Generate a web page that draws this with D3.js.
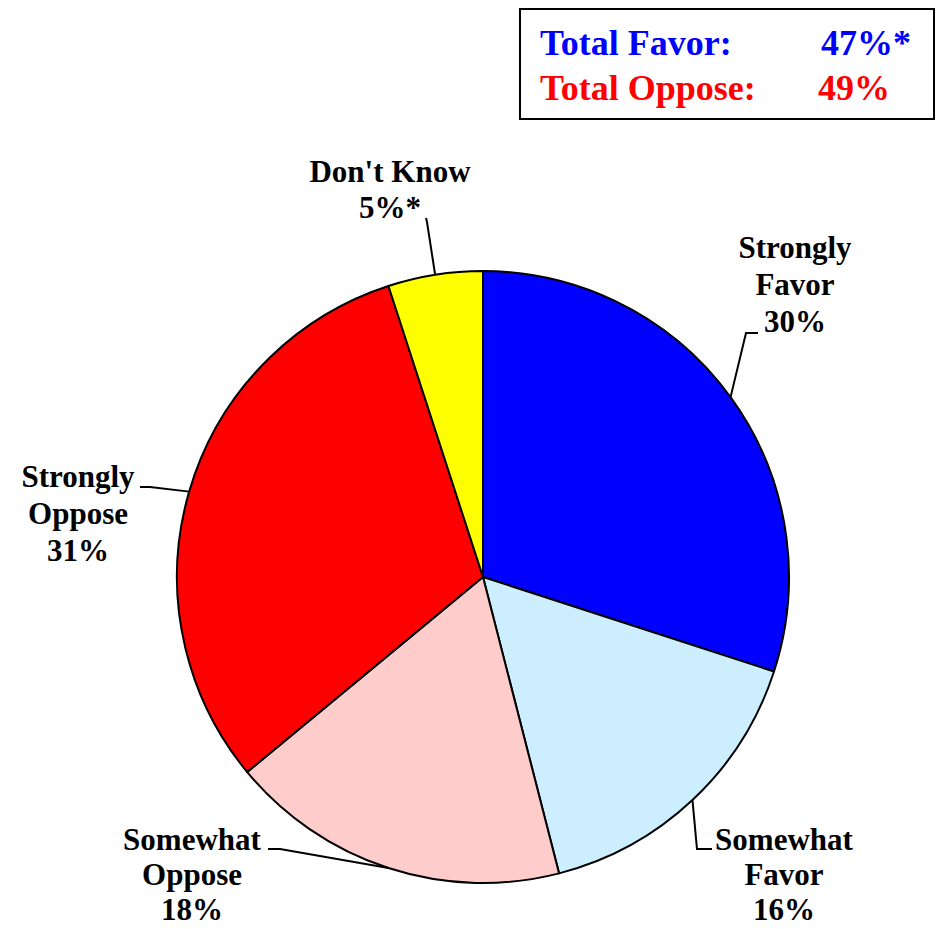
<!DOCTYPE html>
<html>
<head>
<meta charset="utf-8">
<script src="https://cdn.jsdelivr.net/npm/d3@7"></script>
<style>
  body { margin: 0; background: #fff; }
  svg text { font-family: "Liberation Serif", "Times New Roman", serif; font-weight: bold; }
</style>
</head>
<body>
<div id="chart"></div>
<script>
// data
const categories = ['Strongly Favor', 'Somewhat Favor', 'Somewhat Oppose', 'Strongly Oppose', "Don't Know"];
const values = [30, 16, 18, 31, 5];
const valueLabels = ['30%', '16%', '18%', '31%', '5%*'];
const labelLines = [['Strongly', 'Favor'], ['Somewhat', 'Favor'], ['Somewhat', 'Oppose'], ['Strongly', 'Oppose'], ["Don't Know"]];
const colors = ['#0000ff', '#cceeff', '#ffcccc', '#ff0000', '#ffff00'];

const totalLabels = ['Total Favor:', 'Total Oppose:'];
const totalValues = ['47%*', '49%'];
const totalColors = ['#0000ff', '#ff0000'];

// label layout: text center x, first baseline y, line step, leader elbow and end
const labelLayout = [
  { x: 795, y: 258, step: 37, elbow: [746, 333], end: [758, 333] },
  { x: 784, y: 850, step: 35, elbow: [697, 849], end: [712, 849] },
  { x: 192, y: 850, step: 35, elbow: [280, 849], end: [268, 849] },
  { x: 78,  y: 487, step: 37, elbow: [150, 487], end: [140, 487] },
  { x: 390, y: 182, step: 36, elbow: [427, 222], end: [426, 218] }
];

const width = 939, height = 929;
const cx = 483, cy = 577, radius = 306;

const svg = d3.select('#chart').append('svg')
  .attr('width', width)
  .attr('height', height);

const pie = d3.pie().sort(null).value(d => d);
const arcs = pie(values);
const arc = d3.arc().innerRadius(0).outerRadius(radius);

const g = svg.append('g').attr('transform', `translate(${cx},${cy})`);

g.selectAll('path')
  .data(arcs)
  .enter()
  .append('path')
  .attr('d', arc)
  .attr('fill', (d, i) => colors[i])
  .attr('stroke', '#000')
  .attr('stroke-width', 2)
  .attr('stroke-linejoin', 'round');

// leader lines
arcs.forEach((d, i) => {
  const a = (d.startAngle + d.endAngle) / 2;
  const p = [cx + radius * Math.sin(a), cy - radius * Math.cos(a)];
  const L = labelLayout[i];
  svg.append('path')
    .attr('d', d3.line()([p, L.elbow, L.end]))
    .attr('fill', 'none')
    .attr('stroke', '#000')
    .attr('stroke-width', 2);
});

// labels
categories.forEach((c, i) => {
  const L = labelLayout[i];
  const lines = labelLines[i].concat([valueLabels[i]]);
  const t = svg.append('text')
    .attr('text-anchor', 'middle')
    .attr('font-size', 31)
    .attr('fill', '#000');
  lines.forEach((s, j) => {
    t.append('tspan')
      .attr('x', L.x)
      .attr('y', L.y + j * L.step)
      .text(s);
  });
});

// totals box
svg.append('rect')
  .attr('x', 520)
  .attr('y', 9)
  .attr('width', 414)
  .attr('height', 110)
  .attr('fill', '#fff')
  .attr('stroke', '#000')
  .attr('stroke-width', 2);

const totalX = [821, 818];
totalLabels.forEach((s, i) => {
  svg.append('text')
    .attr('x', 540)
    .attr('y', 55 + i * 45)
    .attr('font-size', 36)
    .attr('fill', totalColors[i])
    .text(s);
  svg.append('text')
    .attr('x', totalX[i])
    .attr('y', 55 + i * 45)
    .attr('font-size', 36)
    .attr('fill', totalColors[i])
    .text(totalValues[i]);
});
</script>
</body>
</html>
